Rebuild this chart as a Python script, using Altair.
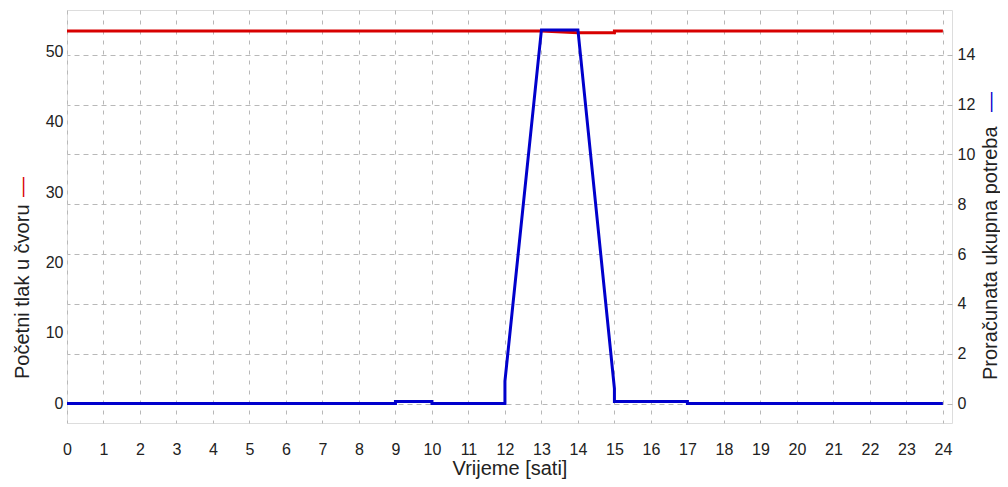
import altair as alt
import pandas as pd

# --- data ---
hours_pressure = [0, 13, 14, 15, 15, 24]
pressure = [52.9, 52.9, 52.65, 52.65, 52.9, 52.9]

hours_demand = [0, 9, 9, 10, 10, 12, 12, 13, 14, 15, 15, 17, 17, 24]
demand = [0, 0, 0.08, 0.08, 0, 0, 0.9, 15.0, 15.0, 0.6, 0.08, 0.08, 0, 0]

x_ticks = list(range(0, 25))
left_ticks = [0, 10, 20, 30, 40, 50]
right_ticks = [0, 2, 4, 6, 8, 10, 12, 14]

x_title = "Vrijeme [sati]"
left_title = "Početni tlak u čvoru"
right_title = "Proračunata ukupna potreba"

FONT = "Liberation Sans, Arial, Helvetica, sans-serif"
RED = "#d80000"
BLUE = "#0000cc"
TXT = "#222222"

df_p = pd.DataFrame({"h": hours_pressure, "v": pressure, "i": range(len(pressure))})
df_d = pd.DataFrame({"h": hours_demand, "v": demand, "i": range(len(demand))})

x_enc = alt.X(
    "h:Q",
    scale=alt.Scale(domain=[0, 24.25], nice=False, zero=False),
    axis=alt.Axis(
        values=x_ticks, title=x_title, grid=True, gridDash=[4, 6],
        gridColor="#b8b8b8", gridWidth=1, ticks=False, domain=False,
        labelFontSize=16, labelFont=FONT, labelColor=TXT, labelPadding=18,
        titleFontSize=20, titleFont=FONT, titleColor=TXT, titleFontWeight="normal",
        titlePadding=1, labelFlush=False, format="d",
    ),
)

red = alt.Chart(df_p).mark_line(color=RED, strokeWidth=3).encode(
    x=x_enc,
    y=alt.Y(
        "v:Q",
        scale=alt.Scale(domain=[-2.84, 55.9], nice=False, zero=False),
        axis=alt.Axis(
            orient="left", values=left_ticks, title=None, grid=False,
            ticks=False, domain=False, labelFontSize=16, labelFont=FONT,
            labelColor=TXT, labelPadding=4, format="d",
        ),
    ),
    order="i:Q",
)

blue = alt.Chart(df_d).mark_line(color=BLUE, strokeWidth=3).encode(
    x=x_enc,
    y=alt.Y(
        "v:Q",
        scale=alt.Scale(domain=[-0.78, 15.8], nice=False, zero=False),
        axis=alt.Axis(
            orient="right", values=right_ticks, title=None, grid=True,
            gridDash=[5, 4], gridColor="#b8b8b8", gridWidth=1,
            ticks=False, domain=False, labelFontSize=16, labelFont=FONT,
            labelColor=TXT, labelPadding=5, format="d",
        ),
    ),
    order="i:Q",
)

lt = alt.Chart(pd.DataFrame({"t": [left_title]})).mark_text(
    angle=270, align="left", baseline="middle", fontSize=20, font=FONT, color=TXT
).encode(x=alt.value(-44), y=alt.value(369), text="t:N")
ld = alt.Chart(pd.DataFrame({"t": ["—"]})).mark_text(
    angle=270, align="center", baseline="middle", fontSize=20, font=FONT, color=RED
).encode(x=alt.value(-44), y=alt.value(177), text="t:N")

rt = alt.Chart(pd.DataFrame({"t": [right_title]})).mark_text(
    angle=270, align="left", baseline="middle", fontSize=20, font=FONT, color=TXT
).encode(x=alt.value(924), y=alt.value(370), text="t:N")
rd = alt.Chart(pd.DataFrame({"t": ["—"]})).mark_text(
    angle=270, align="center", baseline="middle", fontSize=20, font=FONT, color=BLUE
).encode(x=alt.value(924), y=alt.value(92), text="t:N")

chart = (
    alt.layer(red, blue, lt, ld, rt, rd)
    .resolve_scale(y="independent")
    .properties(
        width=885, height=413,
        autosize=alt.AutoSizeParams(type="none"),
        padding={"left": 59, "top": 2, "right": 48, "bottom": 56},
    )
    .configure_view(stroke="#222222", strokeWidth=1.5)
    .configure(background="white")
)

chart.save("out.html", embed_options={"renderer": "svg", "actions": False})
